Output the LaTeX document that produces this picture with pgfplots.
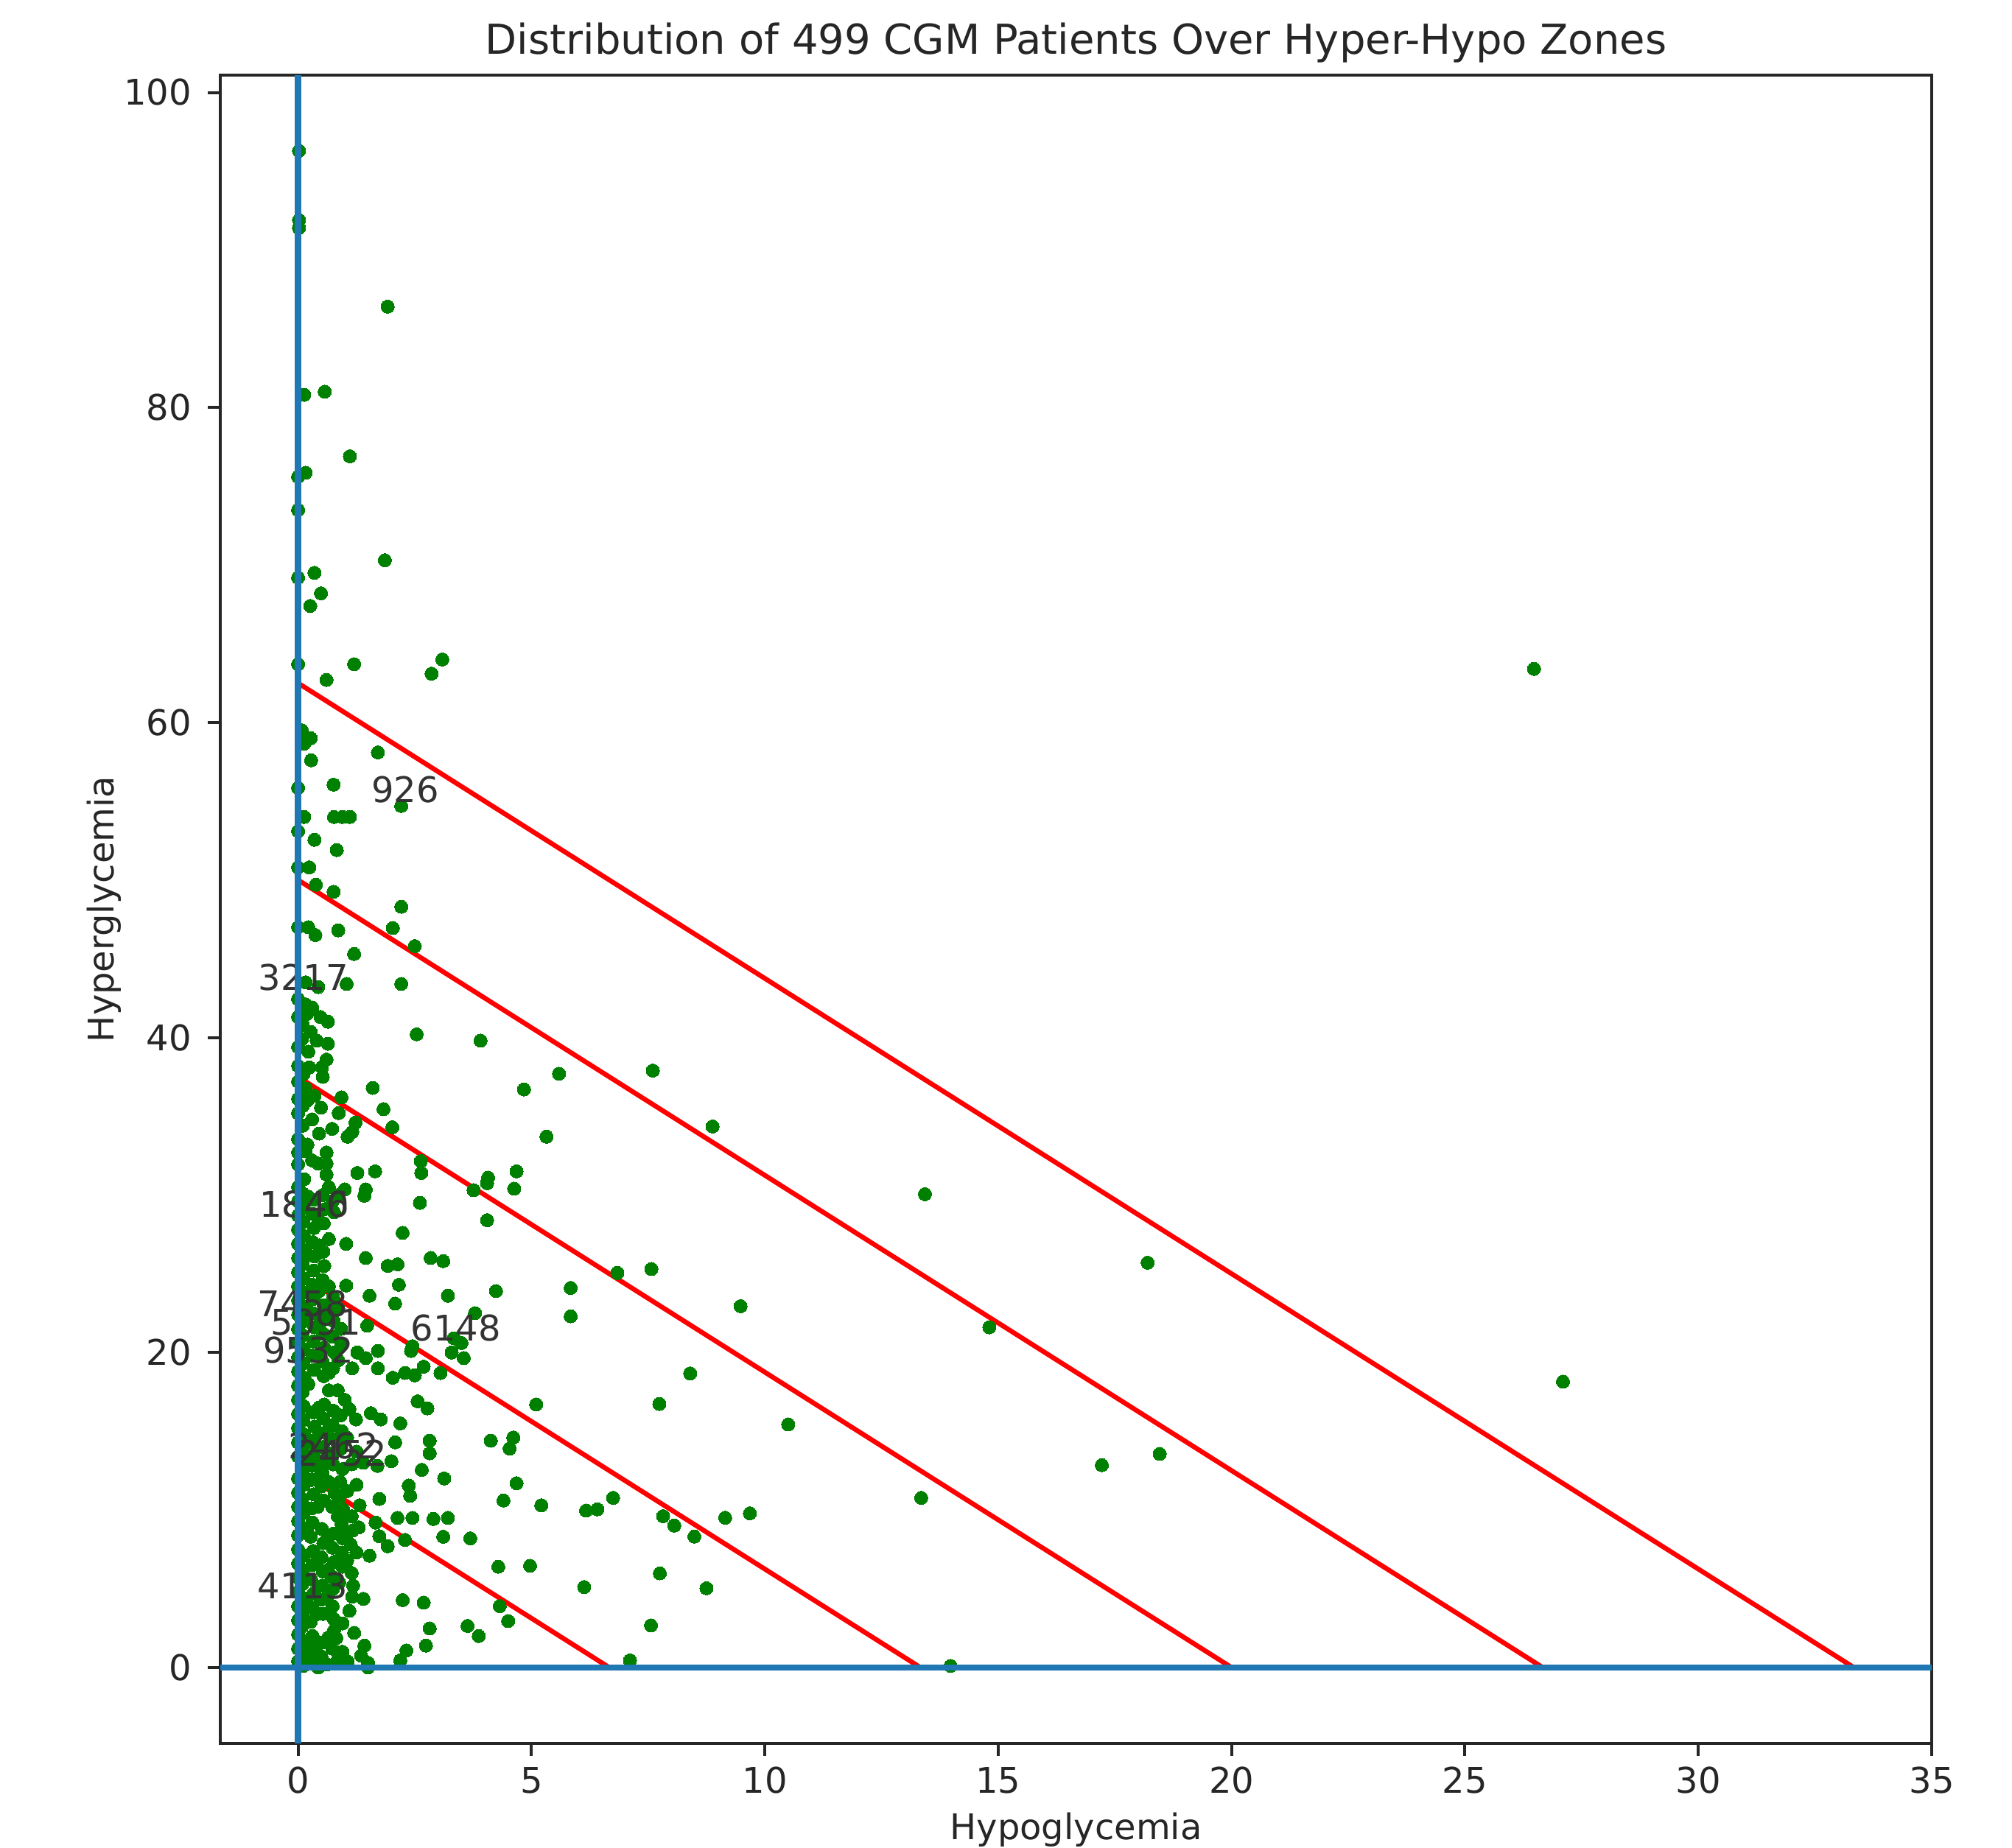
\documentclass[border=0pt]{standalone}
\usepackage{fontspec}
\setmainfont{DejaVu Sans}
\usepackage{pgfplots}
\pgfplotsset{compat=1.18}
\definecolor{mplblue}{HTML}{1F77B4}
\definecolor{ptgreen}{HTML}{008000}
\newcommand{\lblfont}{\fontsize{9.6}{11}\selectfont}
\begin{document}
\begin{tikzpicture}
\begin{axis}[
  set layers,
  scale only axis, width=464.6pt, height=453pt,
  at={(0,0)}, anchor=south west,
  xmin=-1.667, xmax=35, ymin=-4.82, ymax=101.1,
  xtick={0,5,...,35}, ytick={0,20,...,100},
  tick pos=left, tick align=outside, major tick length=3.4pt,
  axis line style={black!85, line width=0.8pt},
  tick style={black!85, line width=0.8pt},
  ticklabel style={font=\lblfont, text=black!85},
  /pgf/number format/assume math mode=true,
  xticklabel style={anchor=north, inner sep=0pt, yshift=-2.8pt},
  yticklabel style={anchor=east, inner sep=0pt, xshift=-4.2pt},
  title={Distribution of 499 CGM Patients Over Hyper-Hypo Zones},
  title style={font=\fontsize{11.2}{13}\selectfont, text=black!85, at={(axis description cs:0.5,1)}, anchor=base, yshift=-0.4pt, inner sep=0pt},
  xlabel={Hypoglycemia}, ylabel={Hyperglycemia},
  xlabel style={font=\lblfont, text=black!85, at={(axis description cs:0.5,0)}, anchor=base, yshift=-26pt, inner sep=0pt},
  ylabel style={font=\lblfont, text=black!85, at={(axis description cs:-0.062,0.5)}, anchor=base, inner sep=0pt},
]
% patients
\addplot[only marks, mark=*, mark size=1.8pt, mark options={fill=ptgreen, draw=ptgreen, line width=0pt}] coordinates {
(0.02,96.3) (0.02,91.9) (0.02,91.4) (1.92,86.4) (0.13,80.8) (0.57,81.0) (1.11,76.9) (0.16,75.85) (0,75.6) (0,73.5)
(1.86,70.3) (0.35,69.5) (0,69.2) (0.49,68.2) (0.26,67.4) (0,63.7) (1.20,63.7) (0.61,62.7) (3.09,64.0) (2.86,63.1)
(0.08,59.5) (0.27,59.0) (0.13,58.65) (1.71,58.1) (0.28,57.6) (0,55.85) (0.76,56.05) (2.21,54.7) (0.13,54.0) (0.77,54.0)
(0.95,54.0) (1.11,54.0) (0,53.1) (0.35,52.55) (0.83,51.9) (0,50.8) (0.24,50.8) (0.38,49.7) (0.76,49.25) (2.21,48.3)
(0,47.0) (0.22,47.0) (0.37,46.5) (0.86,46.8) (2.03,46.95) (2.50,45.8) (1.20,45.3) (0.16,43.5) (0.43,43.2) (1.04,43.4)
(2.21,43.4) (26.48,63.4)
(2.54,40.2) (3.91,39.8) (5.59,37.7) (1.60,36.8) (4.84,36.7) (0.93,36.2) (1.83,35.45) (1.23,34.6) (1.16,34.0) (1.06,33.7)
(2.02,34.3) (5.32,33.7) (1.27,31.4) (1.65,31.5) (2.63,32.15) (2.64,31.4) (4.68,31.5) (4.07,31.1) (7.60,37.9) (8.88,34.35)
(0,42.45) (0.16,42.1) (0,41.3) (0.19,41.5) (0.48,41.3) (0.64,41.0) (0.27,40.35) (0.64,39.6) (0,39.4) (0.22,39.1)
(0.61,38.6) (0,38.2) (0.24,38.1) (0.51,38.1) (0.53,37.5) (0,37.2) (0.16,36.75) (0,36.1) (0.10,35.65) (0.49,35.55)
(0.87,35.2) (0,35.2) (0.73,34.2) (0.45,33.9) (0,33.55) (0.16,32.8) (0.30,32.2) (0.43,32.0) (0.61,32.7) (0.61,32.0)
(0,32.7) (0,31.95) (0.1,40.8) (0.08,39.9) (0.12,37.7) (0.1,34.4) (0.2,33.2) (0.35,36.3) (0.4,39.8) (0.3,34.8)
(0.61,31.3) (4.05,30.75) (4.63,30.4) (3.76,30.3) (1.0,30.35) (1.45,30.35) (1.42,29.95) (2.61,29.5) (4.05,28.4) (2.24,27.6)
(1.03,26.9) (1.45,26.0) (1.92,25.5) (2.13,25.6) (2.84,26.0) (3.11,25.8) (1.03,24.25) (2.16,24.3) (1.53,23.6) (3.21,23.6)
(4.24,23.9) (2.08,23.1) (5.84,24.1) (5.84,22.3) (3.79,22.5) (1.48,21.7) (2.45,20.4) (3.34,20.9) (3.50,20.6) (3.55,19.65)
(3.29,20.0) (1.27,20.0) (1.45,19.65) (1.71,20.1) (2.42,20.1) (1.16,19.0) (1.71,19.0) (2.03,18.4) (2.29,18.7) (2.50,18.55)
(2.69,19.1) (3.05,18.7) (2.56,16.9) (2.77,16.45) (5.10,16.7) (1.24,15.75) (1.56,16.15) (1.77,15.75) (2.19,15.5) (2.08,14.3)
(2.82,14.4) (2.82,13.6) (4.13,14.4) (4.61,14.6) (4.53,13.9)
(6.84,25.05) (7.57,25.3) (9.48,22.94) (8.40,18.67) (7.74,16.73) (10.50,15.43) (17.22,12.85) (18.46,13.56) (13.35,10.77) (6.75,10.77)
(6.17,9.96) (6.41,10.04) (7.82,9.61) (8.06,9.01) (8.49,8.31) (9.15,9.51) (9.68,9.79) (7.75,5.98) (6.13,5.11) (8.75,5.03)
(7.56,2.67) (7.11,0.45) (13.98,0.1) (13.43,30.05) (18.2,25.7) (14.81,21.6) (27.1,18.15)
(2.65,12.55) (3.13,12.0) (4.68,11.7) (4.40,10.6) (5.21,10.3) (1.74,10.7) (2.37,11.55) (2.40,10.9) (2.13,9.5) (2.45,9.5)
(2.90,9.43) (3.21,9.5) (1.66,9.2) (1.74,8.34) (1.92,7.7) (2.29,8.1) (3.11,8.3) (3.69,8.2) (1.53,7.1) (4.29,6.4)
(4.97,6.46) (1.16,4.5) (1.40,4.36) (0.74,3.9) (2.24,4.28) (2.69,4.12) (4.32,3.9) (4.50,2.95) (2.82,2.48) (3.63,2.64)
(3.87,2.0) (0.77,2.34) (0.82,1.87) (2.74,1.39) (1.42,1.39) (1.35,0.76) (1.50,0.3) (2.32,1.08) (2.19,0.45) (1.06,0.37)
(1.50,0.0) (0.43,0.0)
(0,12.0) (0,11.1) (0,10.2) (0,9.3) (0,8.4) (0,7.5) (0,6.6) (0,5.7) (0,4.8) (0,3.9) (0,3.0) (0,2.1) (0,1.2) (0,0.4)
(0.1,12.5) (0.12,11.6) (0.09,10.7) (0.11,9.8) (0.08,8.9) (0.12,7.1) (0.1,6.2) (0.09,5.3) (0.13,4.4) (0.1,3.5) (0.08,2.6) (0.12,1.7) (0.1,0.8) (0.11,0.1)
(0.3,12.8) (0.28,11.9) (0.33,11.0) (0.29,10.1) (0.31,9.2) (0.27,8.3) (0.32,7.4) (0.3,6.5) (0.28,5.6) (0.33,4.7) (0.3,3.8) (0.27,2.9) (0.31,2.0) (0.29,1.1) (0.3,0.3)
(0.52,12.4) (0.5,11.5) (0.55,10.6) (0.51,8.8) (0.54,7.9) (0.5,7.0) (0.53,6.1) (0.52,5.2) (0.49,4.3) (0.54,3.4) (0.52,1.6) (0.5,0.7)
(0.75,12.9) (0.78,11.1) (0.73,10.2) (0.76,8.5) (0.74,7.6) (0.77,6.7) (0.72,5.8) (0.75,5.0) (0.76,3.1) (0.73,1.2)
(0.95,12.6) (0.97,10.0) (0.93,9.1) (0.96,8.2) (0.94,7.3) (0.95,6.4)
(1.15,9.6) (1.17,8.7) (1.13,7.8) (1.15,6.0) (1.18,5.2) (1.3,8.9) (1.32,10.3)
(0.9,11.8) (1.15,12.9) (1.4,13.0) (1.7,12.8) (2.0,13.1) (0.62,0.2) (0.2,13.2)
(0,13.4) (0,14.3) (0,15.2) (0,16.1) (0,17.0) (0,17.9) (0,18.8) (0,19.7) (0,20.6) (0,21.5) (0,22.4) (0,23.3) (0,24.2) (0,25.1) (0,26.0) (0,26.9) (0,27.8) (0,28.7) (0,29.6) (0,30.5)
(0.12,13.0) (0.1,13.9) (0.13,14.8) (0.11,15.7) (0.12,16.6) (0.1,17.5) (0.13,18.4) (0.11,19.3) (0.12,20.2) (0.1,21.1) (0.13,22.0) (0.12,22.9) (0.11,23.8) (0.12,24.7) (0.1,25.6) (0.13,26.5) (0.12,27.4) (0.11,28.3) (0.12,29.2) (0.1,30.1) (0.13,31.0)
(0.33,13.5) (0.31,14.4) (0.35,15.3) (0.32,16.2) (0.34,18.9) (0.31,19.8) (0.33,20.7) (0.35,21.6) (0.32,22.5) (0.34,23.4) (0.31,24.3) (0.33,25.2) (0.35,26.1) (0.32,27.0) (0.34,27.9) (0.31,28.8) (0.33,29.7)
(0.55,13.1) (0.53,14.0) (0.57,14.9) (0.54,15.8) (0.56,16.7) (0.55,18.5) (0.53,19.4) (0.56,20.3) (0.54,21.2) (0.57,22.1) (0.55,23.0) (0.53,24.6) (0.56,25.5) (0.54,26.4) (0.55,28.2) (0.57,29.1) (0.53,30.0)
(0.75,13.6) (0.77,14.5) (0.74,15.4) (0.76,16.3) (0.75,19.0) (0.78,20.0) (0.74,21.0) (0.76,22.0) (0.75,23.5) (0.77,28.9) (0.74,29.6)
(0.92,13.9) (0.94,15.0) (0.91,16.0) (0.93,20.5) (0.92,21.5) (1.0,17.0) (1.1,16.4) (0.85,17.6)
(0.42,12.0) (0.65,11.8) (0.42,10.2) (0.86,10.6) (1.05,11.2) (1.25,11.6) (0.85,9.6) (1.05,8.5) (1.25,7.3) (1.05,6.8)
(0.88,5.4) (0.65,4.6) (0.42,3.4) (0.95,2.8) (0.95,1.0) (0.4,1.4) (0.65,1.9) (1.2,2.2) (0.85,0.5) (0.45,14.9)
(0.66,15.2) (0.45,16.5) (0.85,14.2) (1.05,14.6) (1.25,13.7) (0.66,17.6) (0.66,18.7) (0.45,19.9) (0.86,19.5) (0.45,21.8)
(0.66,22.5) (0.86,22.8) (0.45,23.9) (0.66,24.2) (0.45,26.8) (0.66,27.2) (0.45,28.4) (0.66,30.5) (0.86,30.0) (0.22,29.9)
(0.22,26.2) (0.22,22.6) (0.22,18.0) (0.22,14.3) (0.2,4.0) (0.2,8.6) (0.42,6.8) (0.64,6.2) (0.64,8.2) (1.1,3.6)
(0.2,36.0) (0.3,41.9)
};
% zone lines
\addplot[red, line width=1.3pt] coordinates {(0,12.5) (6.667,0)};
\addplot[red, line width=1.3pt] coordinates {(0,25) (13.333,0)};
\addplot[red, line width=1.3pt] coordinates {(0,37.5) (20,0)};
\addplot[red, line width=1.3pt] coordinates {(0,50) (26.667,0)};
\addplot[red, line width=1.3pt] coordinates {(0,62.5) (33.333,0)};
% axes through the origin, above the ids
\addplot[mplblue, line width=1.7pt, on layer=axis foreground] coordinates {(0,-4.82) (0,101.1)};
\addplot[mplblue, line width=1.7pt, on layer=axis foreground] coordinates {(-1.667,0) (35,0)};
% patient ids
\begin{pgfonlayer}{axis descriptions}
\begin{scope}[every node/.style={anchor=base west, inner sep=0pt, font=\lblfont, text=black!80}]
\node at (axis cs:1.56,54.9) {926};
\node at (axis cs:-0.87,43.0) {3217};
\node at (axis cs:-0.84,28.6) {1846};
\node at (axis cs:-0.84,28.6) {1840};
\node at (axis cs:-0.88,22.3) {7458};
\node at (axis cs:-0.60,21.1) {5091};
\node at (axis cs:-0.76,19.35) {9532};
\node at (axis cs:2.40,20.75) {6148};
\node at (axis cs:-0.22,13.25) {2462};
\node at (axis cs:-0.05,12.8) {2452};
\node at (axis cs:-0.88,4.36) {4113};
\end{scope}
\end{pgfonlayer}
\end{axis}
\pgfresetboundingbox
\path[use as bounding box] (-59.8pt,-28.2pt) rectangle (486.4pt,473.4pt);
\end{tikzpicture}
\end{document}
